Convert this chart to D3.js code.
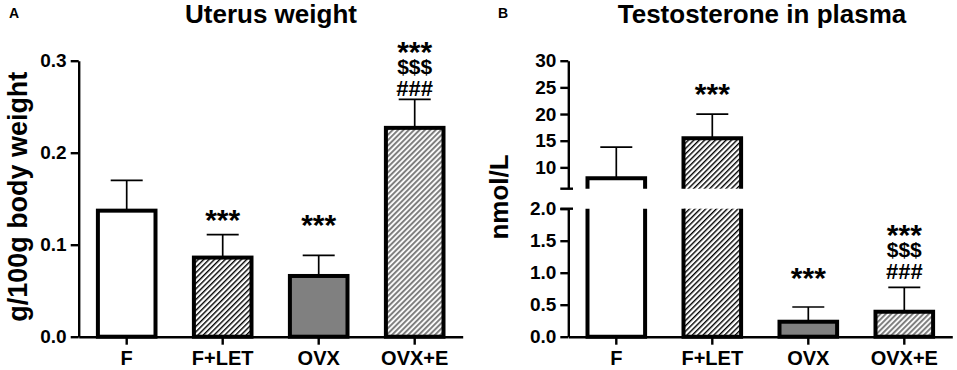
<!DOCTYPE html>
<html><head><meta charset="utf-8">
<script src="https://cdn.jsdelivr.net/npm/d3@7"></script>
<style>
html,body{margin:0;padding:0;background:#fff;}
svg{display:block;font-family:"Liberation Sans",Arial,Helvetica,sans-serif;}
</style></head>
<body><svg id="c" width="957" height="370"></svg>
<script>
// ---- data ----
const categories = ["F", "F+LET", "OVX", "OVX+E"];
const uterusMean = [0.137, 0.086, 0.066, 0.227];
const uterusErr  = [0.033, 0.025, 0.0225, 0.031];
const uterusTicks = [0, 0.1, 0.2, 0.3];
const testoMean = [7.95, 15.45, 0.234, 0.39];
const testoErr  = [5.85, 4.55, 0.23, 0.38];
const testoTicksLow  = [0, 0.5, 1.0, 1.5, 2.0];
const testoTicksHigh = [10, 15, 20, 25, 30];
const uterusAnnot = [[], ["***"], ["***"], ["***", "$$$", "###"]];
const uterusAnnotAt = [null, 0.1345, 0.1287, 0.2703];
const testoAnnot = [[], ["***"], ["***"], ["***", "$$$", "###"]];
const testoAnnotAt = [null, 25.07, 1.016, 1.016];
const fills = ["white", "url(#hatchBlack)", "#808080", "url(#hatchGray)"];

const svg = d3.select("#c");
const defs = svg.append("defs");
function hatch(id, color, w, lw) {
  const p = defs.append("pattern").attr("id", id).attr("patternUnits", "userSpaceOnUse")
    .attr("width", w).attr("height", w).attr("patternTransform", "rotate(45)");
  p.append("rect").attr("width", w).attr("height", w).attr("fill", "white");
  p.append("rect").attr("x", 0).attr("y", 0).attr("width", lw).attr("height", w).attr("fill", color);
}
hatch("hatchBlack", "#000", 3.8, 1.4);
hatch("hatchGray", "#7f7f7f", 3.8, 2.0);

const AX = 2.4;
function styleAxis(g) {
  g.selectAll("path.domain").attr("stroke", "#000").attr("stroke-width", AX);
  g.selectAll(".tick line").attr("stroke", "#000").attr("stroke-width", AX);
  g.selectAll("text").attr("fill", "#000").attr("font-weight", "bold")
    .attr("font-family", "'Liberation Sans',Arial,sans-serif");
}
const glyphK = {"*": 0.56, "$": 0.335, "#": 0.35};
const glyphFs = {"*": 30, "$": 21, "#": 22};
function annotate(g, x, yFn, annots, at) {
  categories.forEach((c, i) => {
    const lines = annots[i];
    if (!lines.length) return;
    const cBottom = yFn(at[i]);
    const cx = x(c) + x.bandwidth() / 2;
    const t = g.append("text").attr("text-anchor", "middle").attr("font-weight", "bold");
    lines.forEach((s, j) => {
      const cy = cBottom - (lines.length - 1 - j) * 21.5;
      const ch = s[0];
      t.append("tspan").attr("x", cx).attr("y", cy + glyphK[ch] * glyphFs[ch])
        .attr("font-size", glyphFs[ch]).text(s);
    });
  });
}
const BW = 4;

// ================= Panel A =================
{
  const x = d3.scaleBand().domain(categories).range([78.7, 462.7]).paddingInner(0.4).paddingOuter(0.2);
  const y = d3.scaleLinear().domain([0, 0.3]).range([336.7, 60.7]);
  const g = svg.append("g");
  categories.forEach((c, i) => {
    const cx = x(c) + x.bandwidth() / 2, top = y(uterusMean[i] + uterusErr[i]);
    g.append("line").attr("x1", cx).attr("x2", cx).attr("y1", y(uterusMean[i])).attr("y2", top)
      .attr("stroke", "#000").attr("stroke-width", 1.7);
    g.append("line").attr("x1", cx - 16).attr("x2", cx + 16).attr("y1", top).attr("y2", top)
      .attr("stroke", "#000").attr("stroke-width", 1.7);
  });
  g.selectAll("rect.bar").data(categories).join("rect").attr("class", "bar")
    .attr("x", d => x(d)).attr("width", x.bandwidth())
    .attr("y", (d, i) => y(uterusMean[i])).attr("height", (d, i) => y(0) - y(uterusMean[i]))
    .attr("fill", (d, i) => fills[i]).attr("stroke", "#000").attr("stroke-width", BW);
  const ya = g.append("g").attr("transform", "translate(78.7,0)")
    .call(d3.axisLeft(y).tickValues(uterusTicks).tickFormat(d3.format(".1f")).tickSize(8).tickSizeOuter(0).tickPadding(4));
  ya.selectAll("text").attr("font-size", 19);
  styleAxis(ya);
  const xa = g.append("g").attr("transform", "translate(0,336.7)")
    .call(d3.axisBottom(x).tickSize(8).tickSizeOuter(0).tickPadding(6));
  xa.selectAll("text").attr("font-size", 20);
  styleAxis(xa);
  annotate(g, x, y, uterusAnnot, uterusAnnotAt);
  g.append("text").attr("x", 271).attr("y", 23).attr("text-anchor", "middle")
    .attr("font-size", 26).attr("font-weight", "bold").text("Uterus weight");
  g.append("text").attr("x", 9).attr("y", 18).attr("font-size", 14).attr("font-weight", "bold").text("A");
  g.append("text").attr("transform", "translate(27,196.7) rotate(-90)").attr("text-anchor", "middle")
    .attr("font-size", 28).attr("font-weight", "bold")
    .attr("textLength", 250).attr("lengthAdjust", "spacingAndGlyphs").text("g/100g body weight");
}

// ================= Panel B =================
{
  const x = d3.scaleBand().domain(categories).range([568.3, 952.3]).paddingInner(0.4).paddingOuter(0.2);
  const yLow = d3.scaleLinear().domain([0, 2]).range([336.7, 208.7]);
  const yHigh = d3.scaleLinear().domain([6, 30]).range([188.7, 60.7]);
  const yB = v => v <= 2 ? yLow(v) : yHigh(v);
  const g = svg.append("g");
  categories.forEach((c, i) => {
    const cx = x(c) + x.bandwidth() / 2, top = yB(testoMean[i] + testoErr[i]);
    g.append("line").attr("x1", cx).attr("x2", cx).attr("y1", yB(testoMean[i])).attr("y2", top)
      .attr("stroke", "#000").attr("stroke-width", 1.7);
    g.append("line").attr("x1", cx - 16).attr("x2", cx + 16).attr("y1", top).attr("y2", top)
      .attr("stroke", "#000").attr("stroke-width", 1.7);
  });
  categories.forEach((c, i) => {
    const v = testoMean[i], x0 = x(c), x1 = x0 + x.bandwidth();
    if (v <= 2) {
      g.append("rect").attr("x", x0).attr("width", x.bandwidth()).attr("y", yLow(v))
        .attr("height", yLow(0) - yLow(v)).attr("fill", fills[i]).attr("stroke", "#000").attr("stroke-width", BW);
    } else {
      g.append("rect").attr("x", x0).attr("width", x.bandwidth()).attr("y", yHigh(v))
        .attr("height", yHigh(6) - yHigh(v)).attr("fill", fills[i]);
      g.append("path").attr("d", `M${x0},${yHigh(6)}V${yHigh(v)}H${x1}V${yHigh(6)}`)
        .attr("fill", "none").attr("stroke", "#000").attr("stroke-width", BW);
      g.append("rect").attr("x", x0).attr("width", x.bandwidth()).attr("y", yLow(2))
        .attr("height", yLow(0) - yLow(2)).attr("fill", fills[i]);
      g.append("path").attr("d", `M${x0},${yLow(2)}V${yLow(0)}H${x1}V${yLow(2)}`)
        .attr("fill", "none").attr("stroke", "#000").attr("stroke-width", BW);
    }
  });
  const yaL = g.append("g").attr("transform", "translate(568.3,0)")
    .call(d3.axisLeft(yLow).tickValues(testoTicksLow).tickFormat(d3.format(".1f")).tickSize(8).tickSizeOuter(0).tickPadding(4));
  yaL.selectAll("text").attr("font-size", 19);
  styleAxis(yaL);
  const yaH = g.append("g").attr("transform", "translate(568.3,0)")
    .call(d3.axisLeft(yHigh).tickValues(testoTicksHigh).tickFormat(d3.format("d")).tickSize(8).tickSizeOuter(0).tickPadding(4));
  yaH.selectAll("text").attr("font-size", 19);
  styleAxis(yaH);
  [yHigh(6), yLow(2)].forEach(yy => {
    g.append("line").attr("x1", 560.3).attr("x2", 573).attr("y1", yy).attr("y2", yy)
      .attr("stroke", "#000").attr("stroke-width", AX);
  });
  const xa = g.append("g").attr("transform", "translate(0,336.7)")
    .call(d3.axisBottom(x).tickSize(8).tickSizeOuter(0).tickPadding(6));
  xa.selectAll("text").attr("font-size", 20);
  styleAxis(xa);
  annotate(g, x, yB, testoAnnot, testoAnnotAt);
  g.append("text").attr("x", 762).attr("y", 23).attr("text-anchor", "middle")
    .attr("font-size", 26).attr("font-weight", "bold").text("Testosterone in plasma");
  g.append("text").attr("x", 498).attr("y", 18).attr("font-size", 14).attr("font-weight", "bold").text("B");
  g.append("text").attr("transform", "translate(508,197) rotate(-90)").attr("text-anchor", "middle")
    .attr("font-size", 26).attr("font-weight", "bold").text("nmol/L");
}
</script></body></html>
